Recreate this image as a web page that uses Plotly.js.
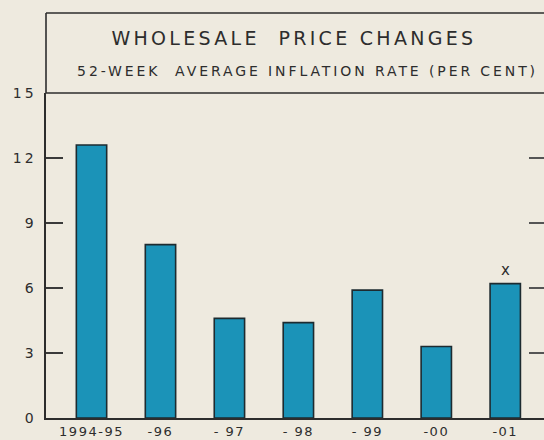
<!DOCTYPE html>
<html>
<head>
<meta charset="utf-8">
<script src="https://cdn.plot.ly/plotly-3.0.1.min.js"></script>
<style>
html, body { margin: 0; padding: 0; background: #eeeadf; overflow: hidden; width: 544px; height: 440px; }
#chart { width: 550px; height: 440px; }
.ytick text { letter-spacing: 3px; }
.xtick text { letter-spacing: 1.5px; }
g.annotation[data-index="0"] text { letter-spacing: 3.3px; }
g.annotation[data-index="1"] text { letter-spacing: 2.9px; }
</style>
</head>
<body>
<div id="chart"></div>
<script>
const categories = ['1994-95', '-96', '- 97', '- 98', '- 99', '-00', '-01'];
const inflation = [12.6, 8.0, 4.6, 4.4, 5.9, 3.3, 6.2];
const yTickVals = [0, 3, 6, 9, 12, 15];
const yTickText = ['0', '3', '6', '9', '12', '15'];
const rightTickVals = [3, 6, 9, 12];
const titleText = 'WHOLESALE  PRICE CHANGES';
const subtitleText = '52-WEEK  AVERAGE INFLATION RATE (PER CENT)';
const provisionalMark = 'x';
const provisionalIndex = categories.length - 1;

const ink = '#2d2d2d';
const bg = '#eeeadf';

const trace = {
  type: 'bar',
  x: categories,
  y: inflation,
  marker: { color: '#1b93b8', line: { color: '#1d2b30', width: 1.6 } },
  hoverinfo: 'x+y'
};
const dummy = {
  type: 'scatter', x: [categories[0]], y: [0], yaxis: 'y2', mode: 'markers',
  marker: { opacity: 0 }, showlegend: false, hoverinfo: 'skip'
};

const layout = {
  width: 550, height: 440,
  margin: { l: 46, r: 2, t: 93, b: 22 },
  paper_bgcolor: bg, plot_bgcolor: bg,
  font: { family: 'DejaVu Sans, sans-serif', color: ink, size: 12 },
  showlegend: false,
  bargap: 0.56,
  xaxis: {
    type: 'category', range: [-0.66, 6.62],
    showline: true, linecolor: ink, linewidth: 1.6,
    ticks: '', showgrid: false, zeroline: false, ticklabelstandoff: 1,
    tickfont: { size: 13, color: ink }, fixedrange: true
  },
  yaxis: {
    range: [0, 15], tickvals: yTickVals, ticktext: yTickText,
    ticks: 'inside', ticklen: 17, tickwidth: 1.5, tickcolor: '#3a3a3a',
    showline: true, linecolor: ink, linewidth: 1.6,
    showgrid: false, zeroline: false, ticklabelstandoff: 5,
    tickfont: { size: 14, color: ink }, fixedrange: true
  },
  yaxis2: {
    overlaying: 'y', side: 'right', anchor: 'x', range: [0, 15],
    tickvals: rightTickVals, ticks: 'inside', ticklen: 19, tickwidth: 1.5, tickcolor: '#555',
    showticklabels: false, showline: true, linecolor: ink, linewidth: 1.6,
    showgrid: false, zeroline: false, fixedrange: true
  },
  shapes: [
    { type: 'line', xref: 'paper', yref: 'paper', x0: 0, x1: 1.05, y0: 1, y1: 1,
      line: { color: ink, width: 1.6 } },
    { type: 'line', xref: 'paper', yref: 'paper', x0: 0, x1: 1.05, y0: 1.246, y1: 1.246,
      line: { color: ink, width: 1.6 } },
    { type: 'line', xref: 'paper', yref: 'paper', x0: 0, x1: 0, y0: 1, y1: 1.246,
      line: { color: ink, width: 1.6 } }
  ],
  annotations: [
    { xref: 'paper', yref: 'paper', x: 0.494, y: 1.168, text: titleText, showarrow: false,
      font: { size: 19, color: ink }, xanchor: 'center', yanchor: 'middle' },
    { xref: 'paper', yref: 'paper', x: 0.52, y: 1.068, text: subtitleText, showarrow: false,
      font: { size: 14, color: ink }, xanchor: 'center', yanchor: 'middle' },
    { x: provisionalIndex, y: inflation[provisionalIndex], text: provisionalMark, showarrow: false,
      yanchor: 'bottom', yshift: 3, font: { size: 15, color: ink } }
  ]
};

Plotly.newPlot('chart', [trace, dummy], layout, { displayModeBar: false, staticPlot: true });
</script>
</body>
</html>
